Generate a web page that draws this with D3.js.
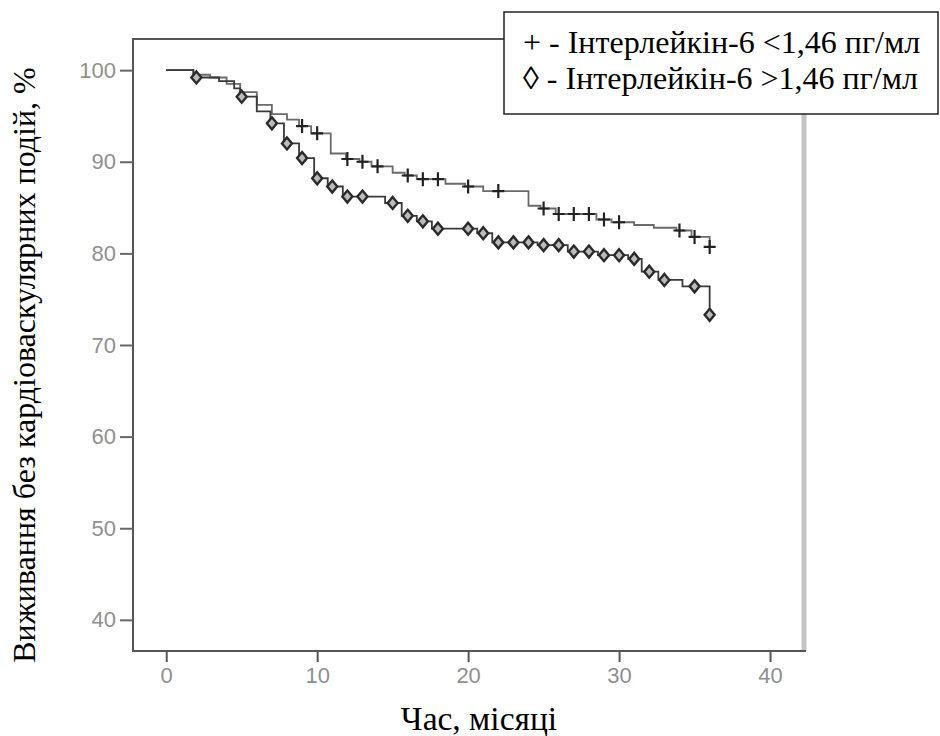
<!DOCTYPE html>
<html>
<head>
<meta charset="utf-8">
<script src="https://cdn.jsdelivr.net/npm/d3@7"></script>
<style>
  body { margin: 0; background: #fff; }
  .tick-label { font-family: "Liberation Sans", Arial, sans-serif; font-size: 22px; fill: #8f8f8f; }
  .title { font-family: "Liberation Serif", "Times New Roman", serif; font-size: 32px; fill: #000; }
</style>
</head>
<body>
<svg id="chart" width="940" height="736"></svg>
<script>
// axis ticks
const xTicks = [0, 10, 20, 30, 40];
const yTicks = [40, 50, 60, 70, 80, 90, 100];

// Kaplan-Meier steps [month, % survival] - IL-6 < 1.46 pg/ml ("+")
const lowSteps = [
    [0, 100], [1.8, 99.5], [2.9, 99.2], [4.0, 98.5], [4.9, 97.6], [6.0, 96.2],
    [7.0, 95.2], [8.0, 94.6], [8.8, 93.9], [9.6, 93.1], [10.9, 90.9], [11.9, 90.3],
    [12.8, 90.0], [13.6, 89.5], [15.0, 88.8], [15.8, 88.5], [16.6, 88.1], [18.5, 87.6],
    [19.8, 87.3], [21.0, 86.8], [24.0, 85.2], [24.8, 84.9], [25.8, 84.3], [28.5, 83.7],
    [29.5, 83.4], [31.0, 83.1], [32.3, 82.8], [33.8, 82.5], [34.8, 81.8], [36.0, 80.7]
];
// censored observations ("+")
const lowCensored = [9, 10, 12, 13, 14, 16, 17, 18, 20, 22, 25, 26, 27, 28, 29, 30, 34, 35, 36];

// IL-6 > 1.46 pg/ml ("◊")
const highSteps = [
    [0, 100], [1.8, 99.2], [3.5, 98.8], [4.5, 98.0], [4.9, 97.1], [6.0, 95.5],
    [6.9, 94.2], [7.8, 92.0], [8.8, 90.4], [9.8, 88.2], [10.7, 87.3], [11.7, 86.2],
    [14.5, 85.5], [15.6, 84.1], [16.6, 83.5], [17.6, 82.7], [20.6, 82.2], [21.6, 81.2],
    [24.6, 80.9], [26.6, 80.2], [28.6, 79.8], [30.6, 79.4], [31.5, 78.0], [32.6, 77.1],
    [34.2, 76.4], [36.0, 73.3]
];
const highCensored = [2, 5, 7, 8, 9, 10, 11, 12, 13, 15, 16, 17, 18, 20, 21, 22, 23, 24,
    25, 26, 27, 28, 29, 30, 31, 32, 33, 35, 36];

const legendLabels = ['+ - Інтерлейкін-6 <1,46 пг/мл', '◊ - Інтерлейкін-6 >1,46 пг/мл'];
const xTitle = 'Час, місяці';
const yTitle = 'Виживання без кардіоваскулярних подій, %';

const svg = d3.select('#chart');

// plot frame
const plotLeft = 133, plotRight = 804, plotTop = 39, plotBottom = 651;

const x = d3.scaleLinear().domain([-2.2, 42.25]).range([plotLeft, plotRight]);
const y = d3.scaleLinear().domain([36.6, 103.4]).range([plotBottom, plotTop]);

function levelAt(steps, t) {
    let v = steps[0][1];
    for (const s of steps) {
        if (s[0] <= t) v = s[1];
    }
    return v;
}

// right border (light, behind)
svg.append('line')
    .attr('x1', plotRight).attr('x2', plotRight)
    .attr('y1', plotTop).attr('y2', plotBottom)
    .attr('stroke', '#c4c4c4').attr('stroke-width', 5);

// left / top / bottom border
svg.append('path')
    .attr('d', `M${plotRight},${plotTop}H${plotLeft}V${plotBottom}H${plotRight + 2}`)
    .attr('fill', 'none').attr('stroke', '#555').attr('stroke-width', 2);

// y axis
const yAxis = svg.append('g')
    .attr('transform', `translate(${plotLeft},0)`)
    .call(d3.axisLeft(y).tickValues(yTicks).tickSize(13).tickPadding(4));
yAxis.select('.domain').remove();
yAxis.selectAll('.tick line').attr('stroke', '#666').attr('stroke-width', 2);
yAxis.selectAll('.tick text').attr('class', 'tick-label');

// x axis
const xAxis = svg.append('g')
    .attr('transform', `translate(0,${plotBottom})`)
    .call(d3.axisBottom(x).tickValues(xTicks).tickSize(11).tickPadding(5));
xAxis.select('.domain').remove();
xAxis.selectAll('.tick line').attr('stroke', '#555').attr('stroke-width', 2);
xAxis.selectAll('.tick text').attr('class', 'tick-label');

// d3 axis sets font on the group and fill on text; let CSS rule
svg.selectAll('.tick-label').attr('fill', null);
yAxis.attr('font-size', null).attr('font-family', null);
xAxis.attr('font-size', null).attr('font-family', null);

// survival curves
const line = d3.line()
    .x(d => x(d[0]))
    .y(d => y(d[1]))
    .curve(d3.curveStepAfter);

svg.append('path')
    .datum(lowSteps)
    .attr('d', line)
    .attr('fill', 'none').attr('stroke', '#6a6a6a').attr('stroke-width', 1.8);

svg.append('path')
    .datum(highSteps)
    .attr('d', line)
    .attr('fill', 'none').attr('stroke', '#3a3a3a').attr('stroke-width', 1.8);

// censor markers
svg.append('g')
    .selectAll('path')
    .data(lowCensored)
    .join('path')
    .attr('transform', d => `translate(${x(d)},${y(levelAt(lowSteps, d))})`)
    .attr('d', 'M-6,0H6M0,-7V7')
    .attr('stroke', '#222').attr('stroke-width', 2.2).attr('fill', 'none');

svg.append('g')
    .selectAll('path')
    .data(highCensored)
    .join('path')
    .attr('transform', d => `translate(${x(d)},${y(levelAt(highSteps, d))})`)
    .attr('d', 'M0,-6L5,0L0,6L-5,0Z')
    .attr('stroke', '#2a2a2a').attr('stroke-width', 2.4).attr('fill', '#bbb');

// axis titles
svg.append('text')
    .attr('class', 'title')
    .attr('x', 479).attr('y', 730)
    .attr('text-anchor', 'middle')
    .style('font-size', '33.5px')
    .text(xTitle);

svg.append('text')
    .attr('class', 'title')
    .attr('transform', 'translate(35,365) rotate(-90)')
    .attr('text-anchor', 'middle')
    .text(yTitle);

// legend
svg.append('rect')
    .attr('x', 504).attr('y', 12)
    .attr('width', 434).attr('height', 102)
    .attr('fill', '#fff').attr('stroke', '#222').attr('stroke-width', 1.5);

svg.append('g')
    .selectAll('text')
    .data(legendLabels)
    .join('text')
    .attr('class', 'title')
    .attr('x', 523)
    .attr('y', (d, i) => 53 + i * 36)
    .text(d => d);
</script>
</body>
</html>
